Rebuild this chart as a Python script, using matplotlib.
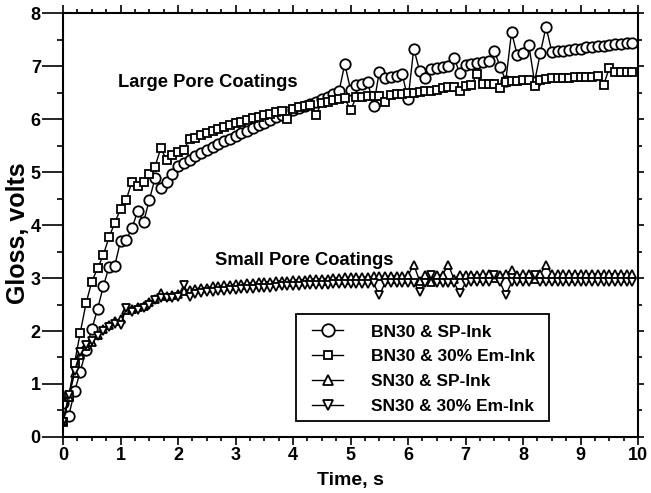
import numpy as np
import matplotlib
matplotlib.use('Agg')
import matplotlib.pyplot as plt
from matplotlib.ticker import MultipleLocator
from matplotlib.patches import Rectangle

plt.rcParams['font.family'] = ['Liberation Sans', 'DejaVu Sans']
plt.rcParams['font.weight'] = 'bold'

## DATA ------------------------------------------------
# sampling time, 0.1 s steps
time_s = np.arange(0, 100) / 10

# BN30 & SP-Ink (large pore, circles)
bn30_sp = [0.64, 0.40, 0.86, 1.23, 1.65, 2.03, 2.41, 2.84, 3.21, 3.23,
           3.70, 3.72, 3.94, 4.27, 4.05, 4.47, 4.88, 4.69, 4.82, 4.96,
           5.11, 5.17, 5.23, 5.30, 5.36, 5.42, 5.48, 5.53, 5.58, 5.63,
           5.68, 5.73, 5.78, 5.83, 5.88, 5.93, 5.98, 6.03, 6.08, 6.13,
           6.17, 6.21, 6.25, 6.29, 6.33, 6.37, 6.42, 6.47, 6.52, 7.04,
           6.55, 6.65, 6.67, 6.69, 6.25, 6.89, 6.78, 6.80, 6.82, 6.84,
           6.37, 7.33, 6.91, 6.77, 6.94, 6.96, 6.98, 7.00, 7.16, 6.86,
           7.02, 7.04, 7.06, 7.08, 7.10, 7.29, 6.99, 6.72, 7.64, 7.20,
           7.24, 7.40, 6.70, 7.24, 7.74, 7.27, 7.28, 7.29, 7.31, 7.32,
           7.33, 7.35, 7.36, 7.37, 7.38, 7.40, 7.41, 7.42, 7.43, 7.44]

# BN30 & 30% Em-Ink (large pore, squares)
bn30_em = [0.29, 0.75, 1.39, 1.97, 2.52, 2.93, 3.18, 3.43, 3.77, 4.04,
           4.30, 4.48, 4.82, 4.73, 4.82, 4.96, 5.10, 5.45, 5.23, 5.32,
           5.38, 5.42, 5.62, 5.64, 5.70, 5.74, 5.77, 5.81, 5.84, 5.88,
           5.92, 5.95, 5.98, 6.01, 6.04, 6.07, 6.10, 6.13, 6.15, 6.00,
           6.19, 6.22, 6.24, 6.27, 6.08, 6.31, 6.33, 6.35, 6.37, 6.39,
           6.17, 6.41, 6.42, 6.43, 6.44, 6.44, 6.33, 6.46, 6.47, 6.48,
           6.49, 6.50, 6.51, 6.52, 6.53, 6.55, 6.58, 6.60, 6.60, 6.52,
           6.62, 6.64, 6.85, 6.66, 6.66, 6.66, 6.59, 6.70, 6.71, 6.71,
           6.73, 6.73, 6.62, 6.74, 6.76, 6.77, 6.77, 6.78, 6.78, 6.79,
           6.79, 6.80, 6.80, 6.81, 6.64, 6.96, 6.88, 6.88, 6.89, 6.89]

# SN30 & SP-Ink (small pore, up triangles)
sn30_sp = [0.30, 0.75, 1.20, 1.55, 1.72, 1.80, 1.92, 2.04, 2.12, 2.18,
           2.22, 2.40, 2.42, 2.45, 2.47, 2.55, 2.60, 2.72, 2.66, 2.68,
           2.70, 2.76, 2.78, 2.80, 2.81, 2.82, 2.84, 2.85, 2.86, 2.87,
           2.88, 2.89, 2.90, 2.91, 2.92, 2.93, 2.93, 2.94, 2.95, 2.95,
           2.96, 2.97, 2.97, 2.98, 2.98, 2.99, 2.99, 3.00, 3.00, 3.01,
           3.01, 3.02, 3.02, 3.02, 3.03, 3.03, 3.03, 3.04, 3.04, 3.04,
           3.05, 3.25, 2.95, 3.05, 2.92, 3.05, 3.06, 3.25, 2.98, 3.05,
           3.06, 3.06, 3.06, 3.07, 3.07, 3.00, 3.06, 3.07, 3.15, 3.05,
           3.07, 3.07, 2.98, 3.07, 3.25, 3.07, 3.07, 3.07, 3.07, 3.07,
           3.08, 3.08, 3.08, 3.08, 3.08, 3.08, 3.08, 3.08, 3.08, 3.08]

# SN30 & 30% Em-Ink (small pore, down triangles)
sn30_em = [0.28, 0.80, 1.25, 1.60, 1.74, 1.82, 1.90, 2.00, 2.08, 2.14,
           2.11, 2.43, 2.36, 2.40, 2.44, 2.50, 2.58, 2.62, 2.62, 2.63,
           2.65, 2.87, 2.65, 2.70, 2.72, 2.73, 2.74, 2.75, 2.76, 2.77,
           2.78, 2.79, 2.80, 2.80, 2.81, 2.82, 2.82, 2.83, 2.84, 2.84,
           2.85, 2.85, 2.86, 2.86, 2.87, 2.87, 2.87, 2.88, 2.88, 2.88,
           2.89, 2.89, 2.89, 2.89, 2.90, 2.68, 2.90, 2.90, 2.90, 2.90,
           2.91, 2.91, 2.74, 2.91, 3.05, 2.91, 2.91, 2.91, 2.91, 2.71,
           2.91, 2.92, 2.92, 2.92, 2.92, 3.05, 2.92, 2.68, 2.92, 2.92,
           2.92, 2.92, 3.05, 2.92, 2.92, 2.92, 2.92, 2.92, 2.92, 2.92,
           2.93, 2.93, 2.93, 2.93, 2.93, 2.93, 2.93, 2.93, 2.93, 2.93]

series = [(bn30_sp, 'o', 7.5, 'BN30 & SP-Ink'),
          (bn30_em, 's', 5.3, 'BN30 & 30% Em-Ink'),
          (sn30_sp, '^', 6.0, 'SN30 & SP-Ink'),
          (sn30_em, 'v', 6.0, 'SN30 & 30% Em-Ink')]

## PLOT ------------------------------------------------
fig = plt.figure(figsize=(6.51, 4.93), dpi=100)
ax = fig.add_axes([0.0968, 0.1136, 0.8833, 0.86])

for vals, mk, ms, lab in series:
    ax.plot(time_s, vals, color='black', lw=1.0, marker=mk, ms=ms,
            mfc='white', mec='black', mew=1.3, label=lab)

ax.set_xlim(0, 10)
ax.set_ylim(0, 8)
ax.xaxis.set_major_locator(MultipleLocator(1))
ax.xaxis.set_minor_locator(MultipleLocator(0.25))
ax.yaxis.set_major_locator(MultipleLocator(1))
ax.yaxis.set_minor_locator(MultipleLocator(0.5))
ax.tick_params(which='both', direction='out', top=True, right=True,
               labelsize=13, width=1.2)
ax.tick_params(axis='x', which='major', length=6, pad=1)
ax.tick_params(axis='x', which='minor', length=3)
ax.tick_params(axis='y', which='major', length=15, pad=1)
ax.tick_params(axis='y', which='minor', length=4.5)
for sp in ax.spines.values():
    sp.set_linewidth(1.5)

# right-hand ticks are short in the original
for t in ax.yaxis.get_major_ticks():
    t.tick2line.set_markersize(4)
for t in ax.yaxis.get_minor_ticks():
    t.tick2line.set_markersize(3)

ax.set_xlabel('Time, s', fontsize=14, fontweight='bold')
ax.xaxis.set_label_coords(0.5, -0.083)
ax.set_ylabel('Gloss, volts', fontsize=18, fontweight='bold')
ax.yaxis.set_label_coords(-0.058, 0.48)

ax.text(0.96, 6.6, 'Large Pore Coatings', fontsize=13.2, fontweight='bold')
ax.text(2.65, 3.25, 'Small Pore Coatings', fontsize=13.2, fontweight='bold')

# legend box drawn separately (wider side padding than matplotlib's)
ax.add_patch(Rectangle((0.405, 0.038), 0.44, 0.252, transform=ax.transAxes,
                       facecolor='white', edgecolor='black', lw=1.3,
                       zorder=4))
leg = ax.legend(loc='upper left', bbox_to_anchor=(0.418, 0.286),
                borderaxespad=0, fontsize=12.5, frameon=False,
                handlelength=1.8, handletextpad=1.6, labelspacing=0.56,
                borderpad=0.5, markerscale=1.2)
leg.set_zorder(5)

fig.savefig('out.png', dpi=100)
